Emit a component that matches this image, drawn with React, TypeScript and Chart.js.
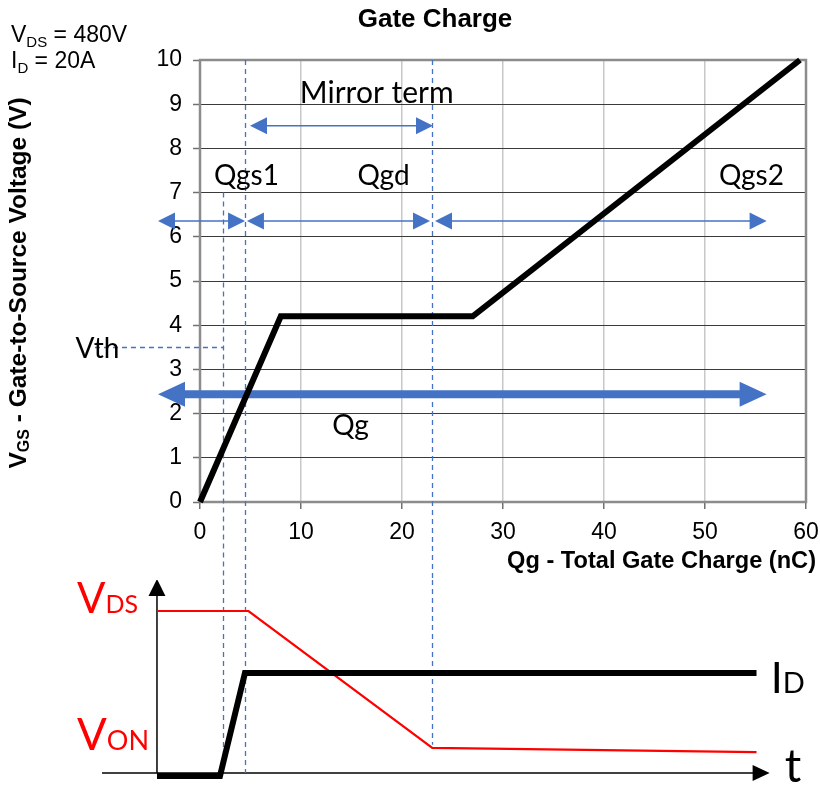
import React, { useEffect, useRef } from "react";
import { Chart, registerables } from "chart.js";
Chart.register(...registerables);

const BLUE = "#4472C4";
const SANS = "'Liberation Sans', Arial, sans-serif";
const CAL = "Lato, 'Open Sans', sans-serif";

// ---- Gate charge curve (top chart) ----
const gateCharge = [0, 8, 27, 59.4]; // nC
const gateVoltage = [0, 4.2, 4.2, 10]; // V
const xTickValues = [0, 10, 20, 30, 40, 50, 60];
const yTickValues = [0, 1, 2, 3, 4, 5, 6, 7, 8, 9, 10];

// phase boundaries (nC) and the voltage where each dashed marker starts
const boundaryCharge = [2.28, 4.46, 23.0];
const boundaryTopVoltage = [7.0, 10, 10];
const vthVoltage = 3.5;
const vthLineStart = -10.4;

// double arrows: from charge, to charge, voltage level
const phaseArrowFrom = [-4.16, 4.65, 23.27];
const phaseArrowTo = [4.46, 22.77, 56.1];
const phaseArrowLevel = 6.36;
const mirrorArrowFrom = 4.95;
const mirrorArrowTo = 23.07;
const mirrorArrowLevel = 8.51;
const qgArrowFrom = -4.16;
const qgArrowTo = 56.1;
const qgArrowLevel = 2.44;

// annotation labels (centre charge, baseline voltage, font size)
const labelTexts = ["Mirror term", "Qgs1", "Qgd", "Qgs2", "Vth", "Qg"];
const labelCharge = [17.5, 4.6, 18.17, 54.6, -10.15, 14.9];
const labelVoltage = [9.03, 7.17, 7.17, 7.17, 3.26, 1.52];
const labelSize = [30, 28, 28, 28, 28, 28];

// ---- switching waveforms (bottom chart), x on the same nC scale ----
const vdsTime = [-4.26, 4.8, 23.0, 55.1];
const vdsLevel = [1, 1, 0.17, 0.145];
const idTime = [-4.26, 1.98, 4.45, 55.1];
const idLevel = [0, 0, 0.624, 0.624];
const axisTimeStart = -9.7;
const axisTimeEnd = 56.4;
const axisLevel = 0.018;
const vAxisTime = -4.26;
const vAxisTop = 1.194;
const boundaryBottomLevel = [0.07, 0.018, 0.19];

function drawDoubleArrow(ctx: CanvasRenderingContext2D, x1: number, x2: number, y: number, lw: number, hl: number, hh: number, color: string) {
  ctx.save();
  ctx.strokeStyle = color;
  ctx.fillStyle = color;
  ctx.lineWidth = lw;
  ctx.beginPath();
  ctx.moveTo(x1 + hl - 1, y);
  ctx.lineTo(x2 - hl + 1, y);
  ctx.stroke();
  ctx.beginPath();
  ctx.moveTo(x1, y);
  ctx.lineTo(x1 + hl, y - hh);
  ctx.lineTo(x1 + hl, y + hh);
  ctx.closePath();
  ctx.fill();
  ctx.beginPath();
  ctx.moveTo(x2, y);
  ctx.lineTo(x2 - hl, y - hh);
  ctx.lineTo(x2 - hl, y + hh);
  ctx.closePath();
  ctx.fill();
  ctx.restore();
}

function subText(ctx: CanvasRenderingContext2D, x: number, y: number, parts: [string, string, number][]) {
  let cx = x;
  for (const [s, font, dy] of parts) {
    ctx.font = font;
    ctx.fillText(s, cx, y + dy);
    cx += ctx.measureText(s).width;
  }
  return cx - x;
}

const topPlugin = {
  id: "topAnnot",
  beforeDatasetsDraw(chart: any) {
    const { ctx, chartArea: a } = chart;
    const x = chart.scales.x;
    const y = chart.scales.y;
    ctx.save();
    ctx.strokeStyle = "#8c8c8c";
    ctx.lineWidth = 2.5;
    ctx.strokeRect(a.left, a.top, a.right - a.left, a.bottom - a.top);

    ctx.strokeStyle = BLUE;
    ctx.lineWidth = 1.3;
    ctx.setLineDash([5, 4]);
    boundaryCharge.forEach((q, i) => {
      const px = Math.round(x.getPixelForValue(q)) + 0.5;
      ctx.beginPath();
      ctx.moveTo(px, y.getPixelForValue(boundaryTopVoltage[i]));
      ctx.lineTo(px, chart.height);
      ctx.stroke();
    });
    const vy = Math.round(y.getPixelForValue(vthVoltage)) + 0.5;
    ctx.beginPath();
    ctx.moveTo(x.getPixelForValue(vthLineStart), vy);
    ctx.lineTo(x.getPixelForValue(boundaryCharge[0]), vy);
    ctx.stroke();
    ctx.setLineDash([]);

    phaseArrowFrom.forEach((f, i) => {
      drawDoubleArrow(ctx, x.getPixelForValue(f), x.getPixelForValue(phaseArrowTo[i]), y.getPixelForValue(phaseArrowLevel), 1.5, 17, 8.5, BLUE);
    });
    drawDoubleArrow(ctx, x.getPixelForValue(mirrorArrowFrom), x.getPixelForValue(mirrorArrowTo), y.getPixelForValue(mirrorArrowLevel), 1.5, 17, 8.5, BLUE);
    drawDoubleArrow(ctx, x.getPixelForValue(qgArrowFrom), x.getPixelForValue(qgArrowTo), y.getPixelForValue(qgArrowLevel), 8, 27, 12.5, BLUE);
    ctx.restore();
  },
  afterDraw(chart: any) {
    const { ctx } = chart;
    const x = chart.scales.x;
    const y = chart.scales.y;
    ctx.save();
    ctx.fillStyle = "#000";
    ctx.textBaseline = "alphabetic";
    // title
    ctx.textAlign = "center";
    ctx.font = `bold 26px ${SANS}`;
    ctx.fillText("Gate Charge", 435, 27);
    // conditions
    ctx.textAlign = "left";
    subText(ctx, 11, 42, [["V", `23px ${SANS}`, 0], ["DS", `15px ${SANS}`, 5], [" = 480V", `23px ${SANS}`, 0]]);
    subText(ctx, 11, 68, [["I", `23px ${SANS}`, 0], ["D", `15px ${SANS}`, 5], [" = 20A", `23px ${SANS}`, 0]]);
    // x title
    ctx.textAlign = "right";
    ctx.font = `bold 23.6px ${SANS}`;
    ctx.fillText("Qg - Total Gate Charge (nC)", 816, 568);
    // y title
    ctx.save();
    ctx.translate(26, 283);
    ctx.rotate(-Math.PI / 2);
    ctx.textAlign = "left";
    const parts: [string, string, number][] = [["V", `bold 24.5px ${SANS}`, 0], ["GS", `bold 16px ${SANS}`, 3], [" - Gate-to-Source Voltage (V)", `bold 24.5px ${SANS}`, 0]];
    let total = 0;
    for (const [s, f] of parts) { ctx.font = f; total += ctx.measureText(s).width; }
    subText(ctx, -total / 2, 0, parts);
    ctx.restore();
    // annotation labels
    ctx.textAlign = "center";
    labelTexts.forEach((t, i) => {
      ctx.font = `${labelSize[i]}px ${CAL}`;
      ctx.fillText(t, x.getPixelForValue(labelCharge[i]), y.getPixelForValue(labelVoltage[i]));
    });
    ctx.restore();
  },
};

const bottomPlugin = {
  id: "bottomAnnot",
  beforeDatasetsDraw(chart: any) {
    const { ctx } = chart;
    const x = chart.scales.x;
    const y = chart.scales.y;
    ctx.save();
    // axes with arrow heads
    ctx.strokeStyle = "#000";
    ctx.fillStyle = "#000";
    ctx.lineWidth = 1.5;
    const ay = y.getPixelForValue(axisLevel);
    const ax1 = x.getPixelForValue(axisTimeStart);
    const ax2 = x.getPixelForValue(axisTimeEnd);
    ctx.beginPath();
    ctx.moveTo(ax1, ay);
    ctx.lineTo(ax2 - 16, ay);
    ctx.stroke();
    ctx.beginPath();
    ctx.moveTo(ax2, ay);
    ctx.lineTo(ax2 - 17, ay - 8);
    ctx.lineTo(ax2 - 17, ay + 8);
    ctx.closePath();
    ctx.fill();
    const vx = x.getPixelForValue(vAxisTime);
    const vt = y.getPixelForValue(vAxisTop);
    ctx.beginPath();
    ctx.moveTo(vx, ay);
    ctx.lineTo(vx, vt + 16);
    ctx.stroke();
    ctx.beginPath();
    ctx.moveTo(vx, vt);
    ctx.lineTo(vx - 8.5, vt + 17);
    ctx.lineTo(vx + 8.5, vt + 17);
    ctx.closePath();
    ctx.fill();
    // dashed boundaries continued
    ctx.strokeStyle = BLUE;
    ctx.lineWidth = 1.3;
    ctx.setLineDash([5, 4]);
    boundaryCharge.forEach((q, i) => {
      const px = Math.round(x.getPixelForValue(q)) + 0.5;
      ctx.beginPath();
      ctx.moveTo(px, 0);
      ctx.lineTo(px, y.getPixelForValue(boundaryBottomLevel[i]));
      ctx.stroke();
    });
    ctx.restore();
  },
  afterDraw(chart: any) {
    const { ctx } = chart;
    const x = chart.scales.x;
    const y = chart.scales.y;
    ctx.save();
    ctx.textAlign = "left";
    ctx.textBaseline = "alphabetic";
    ctx.fillStyle = "#ff0000";
    subText(ctx, x.getPixelForValue(-12.18), y.getPixelForValue(0.988), [["V", `42px ${CAL}`, 0], ["DS", `25px ${CAL}`, 0]]);
    subText(ctx, x.getPixelForValue(-12.18), y.getPixelForValue(0.158), [["V", `44px ${CAL}`, 0], ["ON", `27px ${CAL}`, 0]]);
    ctx.fillStyle = "#000";
    subText(ctx, x.getPixelForValue(56.5), y.getPixelForValue(0.503), [["I", `43px ${CAL}`, 0], ["D", `29px ${CAL}`, 0]]);
    ctx.font = `46px ${CAL}`;
    ctx.fillText("t", x.getPixelForValue(57.9), y.getPixelForValue(-0.036));
    ctx.restore();
  },
};

export default function App() {
  const topRef = useRef<HTMLCanvasElement>(null);
  const botRef = useRef<HTMLCanvasElement>(null);

  useEffect(() => {
    const top = new Chart(topRef.current as HTMLCanvasElement, {
      type: "line",
      data: {
        datasets: [
          {
            data: gateCharge.map((q, i) => ({ x: q, y: gateVoltage[i] })),
            borderColor: "#000",
            borderWidth: 6,
            pointRadius: 0,
            tension: 0,
            borderJoinStyle: "miter",
            borderCapStyle: "butt",
            clip: false,
          } as any,
        ],
      },
      options: {
        animation: false,
        responsive: false,
        devicePixelRatio: 1,
        layout: { padding: { top: 60, right: 14, left: 0, bottom: 0 } },
        plugins: { legend: { display: false }, tooltip: { enabled: false }, title: { display: false } },
        scales: {
          x: {
            type: "linear",
            min: 0,
            max: 60,
            afterBuildTicks: (s: any) => { s.ticks = xTickValues.map((v) => ({ value: v })); },
            afterFit: (s: any) => { s.height = 78; s.paddingLeft = 0; s.paddingRight = 0; },
            ticks: { autoSkip: false, color: "#000", font: { family: SANS, size: 23 }, padding: 10, maxRotation: 0 },
            grid: { color: "#c8c8c8", lineWidth: 1.5, tickLength: 7, tickColor: "#707070", tickWidth: 1.5 },
            border: { display: false },
          },
          y: {
            type: "linear",
            min: 0,
            max: 10,
            afterBuildTicks: (s: any) => { s.ticks = yTickValues.map((v) => ({ value: v })); },
            afterFit: (s: any) => { s.width = 200; s.paddingTop = 0; s.paddingBottom = 0; },
            ticks: { autoSkip: false, color: "#000", font: { family: SANS, size: 23 }, padding: 11 },
            grid: { color: "#3a3a3a", lineWidth: 1, tickLength: 7, tickColor: "#707070", tickWidth: 1.5 },
            border: { display: false },
          },
        },
      } as any,
      plugins: [topPlugin],
    });

    const bottom = new Chart(botRef.current as HTMLCanvasElement, {
      type: "line",
      data: {
        datasets: [
          {
            data: idTime.map((t, i) => ({ x: t, y: idLevel[i] })),
            borderColor: "#000",
            borderWidth: 6,
            pointRadius: 0,
            tension: 0,
            borderJoinStyle: "miter",
            clip: false,
          } as any,
          {
            data: vdsTime.map((t, i) => ({ x: t, y: vdsLevel[i] })),
            borderColor: "#ff0000",
            borderWidth: 2.2,
            pointRadius: 0,
            tension: 0,
            clip: false,
          } as any,
        ],
      },
      options: {
        animation: false,
        responsive: false,
        devicePixelRatio: 1,
        layout: { padding: { top: 31, right: 14, left: 200, bottom: 9 } },
        plugins: { legend: { display: false }, tooltip: { enabled: false } },
        scales: {
          x: { type: "linear", min: 0, max: 60, display: false },
          y: { type: "linear", min: 0, max: 1, display: false },
        },
      } as any,
      plugins: [bottomPlugin],
    });

    return () => {
      top.destroy();
      bottom.destroy();
    };
  }, []);

  return (
    <div style={{ position: "absolute", left: 0, top: 0, width: 820, height: 785, background: "#fff" }}>
      <canvas ref={topRef} width={820} height={580} style={{ position: "absolute", left: 0, top: 0, width: 820, height: 580 }} />
      <canvas ref={botRef} width={820} height={205} style={{ position: "absolute", left: 0, top: 580, width: 820, height: 205 }} />
    </div>
  );
}
